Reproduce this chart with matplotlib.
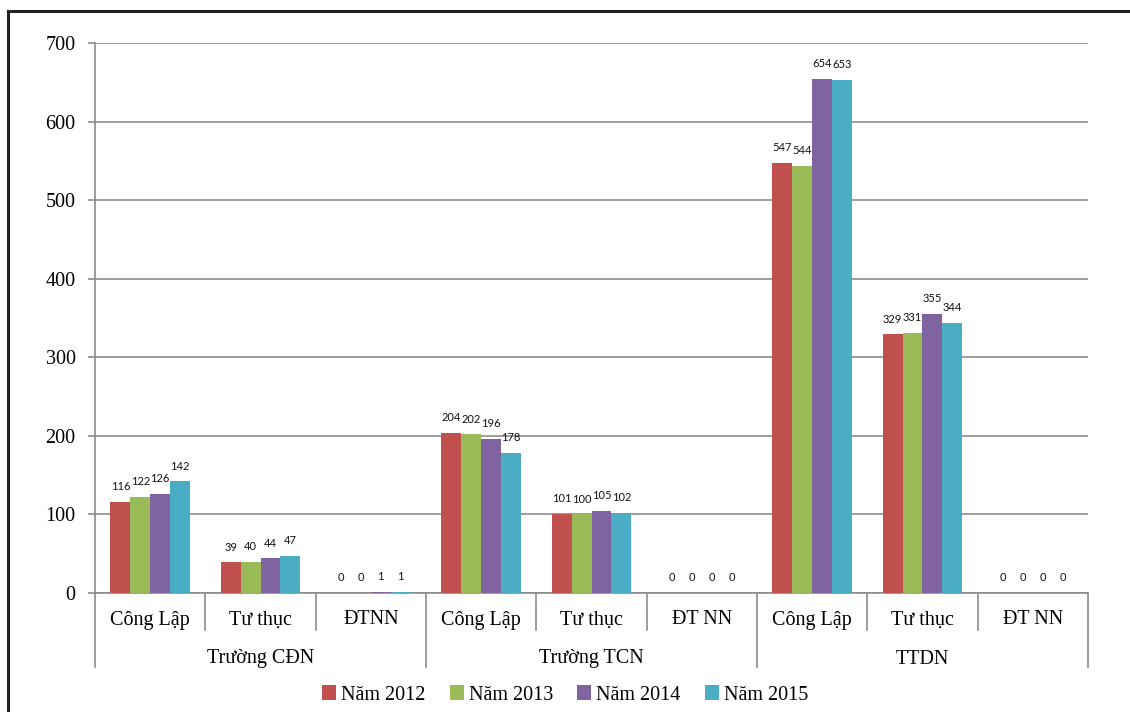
import matplotlib
matplotlib.use("Agg")
import matplotlib.pyplot as plt
import matplotlib.transforms as mtransforms
from matplotlib.patches import Rectangle
import numpy as np

plt.rcParams['font.family'] = ['Liberation Serif', 'DejaVu Serif']

categories = ["Công Lập", "Tư thục", "ĐTNN",
              "Công Lập", "Tư thục", "ĐT NN",
              "Công Lập", "Tư thục", "ĐT NN"]
groups = ["Trường CĐN", "Trường TCN", "TTDN"]
series_names = ["Năm 2012", "Năm 2013", "Năm 2014", "Năm 2015"]
nam2012 = [116, 39, 0, 204, 101, 0, 547, 329, 0]
nam2013 = [122, 40, 0, 202, 100, 0, 544, 331, 0]
nam2014 = [126, 44, 1, 196, 105, 0, 654, 355, 0]
nam2015 = [142, 47, 1, 178, 102, 0, 653, 344, 0]
colors = ["#C0504D", "#9BBB59", "#8064A2", "#4BACC6"]
yticks = [0, 100, 200, 300, 400, 500, 600, 700]

W, H = 1130, 712
fig = plt.figure(figsize=(W / 100, H / 100), dpi=100)
ax = fig.add_axes([95 / W, 1 - 593 / H, (1088 - 95) / W, (593 - 43) / H])

x = np.arange(len(categories))
bw = 0.18
all_series = [nam2012, nam2013, nam2014, nam2015]
handles = []
for i, (vals, c, name) in enumerate(zip(all_series, colors, series_names)):
    bars = ax.bar(x + (i - 1.5) * bw, vals, width=bw, color=c, label=name,
                  linewidth=0, zorder=3)
    ax.bar_label(bars, labels=[str(v) for v in vals], padding=7,
                 fontsize=8, family=['Lato', 'DejaVu Sans'], color='#111111')
    handles.append(bars)

ax.set_xlim(-0.5, len(categories) - 0.5)
ax.set_ylim(0, 700)
ax.set_yticks(yticks)
ax.set_yticklabels([str(t) for t in yticks], fontsize=14.5)
ax.tick_params(axis='y', length=5, width=1.2, color='#8c8c8c', pad=9)
ax.grid(axis='y', color='#8c8c8c', linewidth=1.2, zorder=0)
ax.set_axisbelow(True)
for s in ['top', 'right']:
    ax.spines[s].set_visible(False)
ax.spines['left'].set_color('#8c8c8c')
ax.spines['left'].set_linewidth(1.2)
ax.spines['bottom'].set_color('#8c8c8c')
ax.spines['bottom'].set_linewidth(1.2)

ax.set_xticks([])
trans = mtransforms.blended_transform_factory(ax.transData, ax.transAxes)
axh = 593 - 43
# category labels
for xi, lab in zip(x, categories):
    ax.text(xi, -27 / axh, lab, transform=trans, ha='center', va='center',
            fontsize=14.5)
# separators
for b in np.arange(-0.5, len(categories), 1.0):
    is_group = (abs(((b + 0.5) % 3)) < 1e-9)
    yend = -74 / axh if is_group else -37 / axh
    ax.plot([b, b], [0, yend], transform=trans, color='#8c8c8c',
            linewidth=1.2, clip_on=False)
# group labels
for gi, g in enumerate(groups):
    ax.text(gi * 3 + 1, -66 / axh, g, transform=trans, ha='center',
            va='center', fontsize=14.5)

fig.legend(handles=handles, labels=series_names, loc='center',
           bbox_to_anchor=(0.5, 1 - 695 / H), ncol=4, frameon=False,
           fontsize=14.5, handlelength=0.7, handleheight=0.7,
           handletextpad=0.25, columnspacing=1.2)

# outer frame
fig.patches.append(Rectangle((8 / W, -0.1), 1.2, 1 - 11 / H + 0.1,
                             transform=fig.transFigure, fill=False,
                             edgecolor='#222222', linewidth=2.2))

fig.savefig("out.png", dpi=100)
